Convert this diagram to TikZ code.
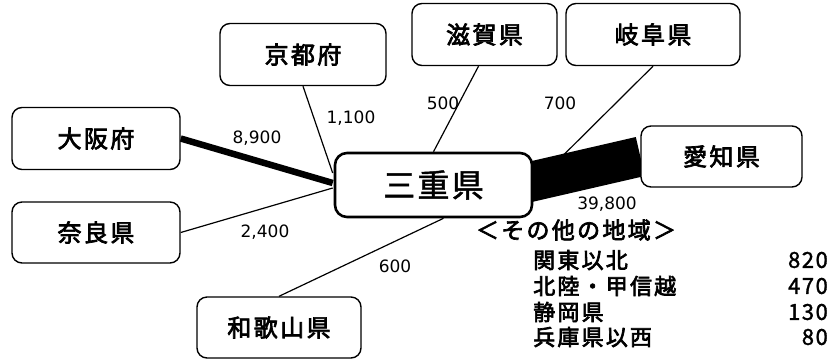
\documentclass[tikz,border=0pt]{standalone}
\usepackage{fontspec}
\setmainfont{DejaVu Sans}
\newfontfamily\jpbox[LetterSpace=10,FakeBold=3]{Noto Sans CJK JP}
\newfontfamily\jpmie[LetterSpace=7,FakeBold=1.5]{Noto Sans CJK JP}
\newfontfamily\jpother[LetterSpace=10,FakeBold=3]{Noto Sans CJK JP}
\usetikzlibrary{backgrounds,calc}

\tikzset{
  pref/.style={draw, fill=white, rounded corners=10pt, line width=1.4pt, inner sep=0pt,
    minimum height=62pt, font=\jpbox\fontsize{24}{24}\selectfont},
  flow/.style={line width=1.2pt},
  amount/.style={font=\fontsize{17}{17}\selectfont, inner sep=0pt},
  other/.style={font=\jpbox\fontsize{22}{22}\selectfont, inner sep=0pt},
  otherval/.style={font=\jpmie\fontsize{22}{22}\selectfont, inner sep=0pt, anchor=east},
}

\begin{document}
\begin{tikzpicture}[x=1pt,y=-1pt]
		\useasboundingbox (0,0) rectangle (829,360);
		% prefectures
		\node[pref, minimum width=197pt, minimum height=64pt, line width=2.6pt, rounded corners=12pt,
		  font=\jpmie\fontsize{32}{32}\selectfont] (mie) at (433.5,185) {三重県};
		\node[pref, minimum width=166pt] (kyoto) at (303,54.5) {京都府};
		\node[pref, minimum width=168pt] (osaka) at (96,138.5) {大阪府};
		\node[pref, minimum width=145pt] (shiga) at (484.5,34.5) {滋賀県};
		\node[pref, minimum width=174pt] (gifu) at (653,34.5) {岐阜県};
		\node[pref, minimum width=161pt, minimum height=61pt] (aichi) at (721.5,156.5) {愛知県};
		\node[pref, minimum width=168pt, minimum height=61pt] (nara) at (96,232.5) {奈良県};
		\node[pref, minimum width=164pt, minimum height=61pt] (wakayama) at (279,327.5) {和歌山県};
		%
		\begin{scope}[on background layer]
			\draw[flow] (kyoto.south) -- ($(mie.west)+(-1,-12)$);
			\draw[line width=6.5pt] (osaka.east) -- ($(mie.west)+(-1,-2)$);
			\draw[flow] (nara.east) -- ($(mie.west)+(-1,3)$);
			\draw[flow] (wakayama.north) -- ($(mie.south)+(10,0)$);
			\draw[flow] ($(shiga.south)+(-6,0)$) -- (mie.north);
			\draw[flow] (gifu.south) -- (mie.east);
			\draw[line width=40pt] ($(mie.east)+(-8,-2)$) -- (aichi.west);
		\end{scope}
		%
		\node[amount] (n-osaka) at (257,138) {8,900};
		\node[amount] (n-kyoto) at (351,118) {1,100};
		\node[amount] (n-shiga) at (443,103) {500};
		\node[amount] (n-gifu) at (560,103) {700};
		\node[amount] (n-aichi) at (607,204) {39,800};
		\node[amount] (n-nara) at (265,232) {2,400};
		\node[amount] (n-wakayama) at (395,266) {600};
		%
		\node[other, font=\jpother\fontsize{23}{23}\selectfont] (others) at (576,230) {＜その他の地域＞};
		\node[other, anchor=west] (r1) at (533,260) {関東以北};
		\node[other, anchor=west] (r2) at (533,286) {北陸・甲信越};
		\node[other, anchor=west] (r3) at (533,312) {静岡県};
		\node[other, anchor=west] (r4) at (533,337) {兵庫県以西};
		\node[otherval] (v1) at (828,260) {820};
		\node[otherval] (v2) at (828,286) {470};
		\node[otherval] (v3) at (828,312) {130};
		\node[otherval] (v4) at (828,337) {80};
	\end{tikzpicture}
\end{document}
